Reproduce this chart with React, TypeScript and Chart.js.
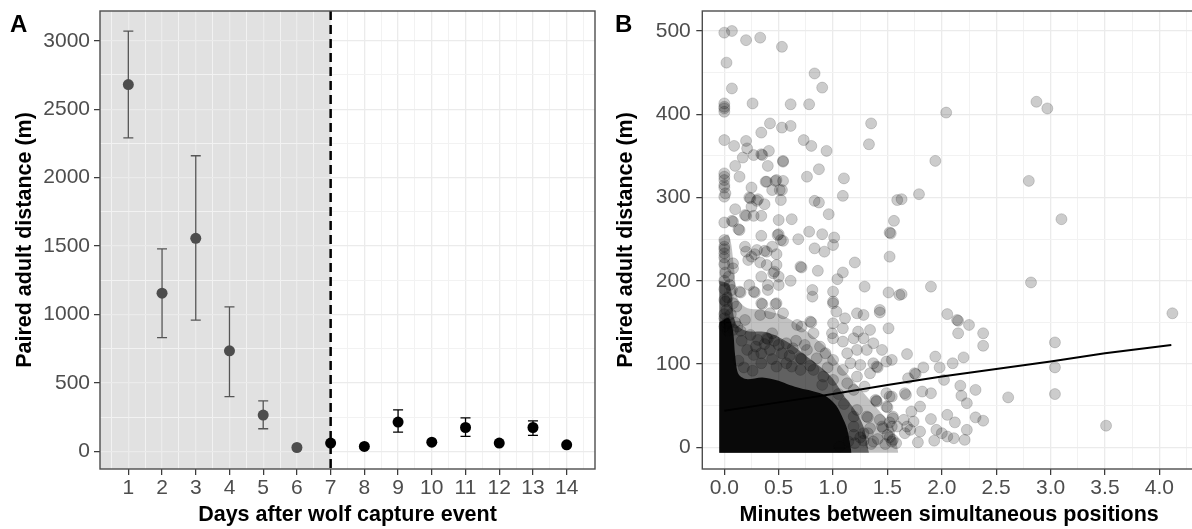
import React, { useEffect, useRef } from 'react';
import { Chart, registerables } from 'chart.js';

Chart.register(...registerables);

const FONT = '"Liberation Sans", Arial, Helvetica, sans-serif';

// ---------- Panel A data ----------
const days = [1, 2, 3, 4, 5, 6, 7, 8, 9, 10, 11, 12, 13, 14];
const meanDistance = [2680, 1156, 1557, 735, 266, 29, 61, 37, 215, 68, 175, 61, 175, 49];
const lowerCI: (number | null)[] = [2290, 832, 959, 401, 166, null, null, null, 141, null, 110, null, 117, null];
const upperCI: (number | null)[] = [3070, 1480, 2160, 1056, 370, null, null, null, 304, null, 246, null, 224, null];
const SHADE_END_DAY = 7;
const xMajorA = [1, 2, 3, 4, 5, 6, 7, 8, 9, 10, 11, 12, 13, 14];
const yMajorA = [0, 500, 1000, 1500, 2000, 2500, 3000];

// ---------- Panel B data ----------
const scatterPoints: [number, number][] = [
  [0.00, 498], [0.07, 500], [0.20, 489], [0.33, 492], [0.53, 481], [0.02, 462], [0.07, 431], [0.83, 449], [0.90, 432],
  [0.00, 413], [0.00, 407], [0.00, 403], [0.00, 409], [0.26, 413], [0.61, 412], [0.78, 412],
  [0.42, 389], [0.34, 378], [0.53, 384], [0.61, 386], [1.35, 389], [1.33, 364],
  [0.00, 369], [0.09, 362], [0.20, 368], [0.21, 359], [0.17, 348], [0.27, 351], [0.34, 352], [0.35, 351], [0.41, 356],
  [0.10, 338], [0.40, 338], [0.54, 343], [0.54, 344], [0.73, 369], [0.80, 362], [0.94, 356], [0.87, 334], [0.76, 325], [1.10, 323], [1.09, 302],
  [0.00, 329], [0.00, 325], [0.00, 321], [0.00, 315], [0.00, 312], [0.01, 305], [0.00, 301],
  [0.14, 325], [0.25, 312], [0.38, 319], [0.48, 321], [0.54, 320], [0.44, 309], [0.53, 309], [0.52, 297], [0.23, 300], [0.31, 298],
  [0.25, 289], [0.37, 292], [0.83, 296], [0.87, 294], [0.96, 280], [0.10, 286],
  [0.00, 270], [0.07, 272], [0.08, 271], [0.14, 261], [0.13, 262], [0.20, 278], [0.27, 278], [0.34, 278], [0.50, 273], [0.62, 274],
  [0.68, 250], [0.78, 259], [0.90, 256], [1.01, 252], [1.00, 243], [0.83, 239], [0.92, 235], [0.34, 254], [0.49, 255], [0.52, 249],
  [0.00, 249], [0.00, 241], [0.00, 238], [0.00, 233], [0.00, 228], [0.19, 241], [0.20, 235], [0.25, 229], [0.28, 232], [0.37, 236],
  [0.44, 241], [0.22, 225], [0.30, 237], [0.39, 235], [0.48, 232],
  [1.20, 222], [1.52, 258], [1.53, 257], [1.56, 272], [1.59, 297], [1.52, 229],
  [2.04, 402], [2.87, 415], [2.97, 407], [1.94, 344], [1.79, 304], [1.63, 298], [2.80, 320], [3.10, 274],
  [2.82, 198], [1.51, 186], [1.63, 184], [1.90, 193], [2.05, 160], [2.14, 153], [1.43, 162],
  [4.12, 161], [2.15, 152], [2.25, 147], [2.15, 137], [2.38, 137], [2.38, 122], [3.04, 126], [1.68, 112], [1.94, 109], [2.20, 108],
  [2.10, 101], [1.98, 96], [1.83, 96], [1.75, 89], [1.76, 88], [1.69, 83], [2.02, 81], [3.04, 96], [2.17, 74], [2.31, 69],
  [1.66, 65], [1.67, 63], [1.82, 67], [1.90, 65], [2.18, 62], [3.04, 64], [2.61, 60], [2.23, 53], [1.54, 61], [1.80, 49],
  [1.72, 43], [2.05, 39], [2.31, 36], [2.38, 32], [1.90, 34], [2.12, 30], [3.51, 26],
  [1.65, 33], [1.68, 25], [1.74, 31], [1.71, 21], [1.80, 19], [1.66, 17], [1.78, 6], [1.55, 9], [1.59, 25], [1.95, 21],
  [2.00, 17], [2.05, 13], [2.11, 11], [2.23, 21], [2.21, 9], [1.93, 8], [1.52, 30], [1.52, 12],
  [0.24, 299], [0.30, 296], [0.39, 319], [0.47, 320], [0.51, 309], [0.19, 279], [0.50, 256], [0.54, 248],
  [1.09, 210], [1.04, 202], [0.86, 212], [0.70, 217], [0.71, 216], [1.29, 193], [1.61, 183], [0.81, 189], [0.81, 181],
  [1.00, 187], [1.00, 175], [0.61, 200], [0.50, 195], [0.40, 195], [0.40, 189], [0.27, 187], [0.28, 186], [0.14, 187], [0.15, 186],
  [0.34, 173], [0.35, 172], [0.48, 173], [0.47, 172], [0.33, 222], [0.39, 219], [0.48, 219], [0.46, 211],
  [0.08, 221], [0.08, 215], [0.04, 205], [0.07, 189], [0.00, 177], [0.08, 173], [0.23, 195], [0.34, 205], [0.45, 209], [0.50, 205],
  [0.01, 175], [0.11, 169], [0.42, 161], [0.54, 161], [0.33, 159], [0.19, 153], [0.02, 149], [0.08, 141], [0.79, 151], [0.80, 150],
  [0.71, 145], [0.82, 137], [0.67, 147], [1.00, 173], [1.03, 163], [1.11, 155], [1.22, 161], [1.28, 159], [1.43, 165], [1.51, 143],
  [1.34, 141], [1.23, 139], [1.09, 143], [1.00, 149], [0.99, 137], [1.00, 131], [1.09, 127], [1.19, 131], [1.28, 131], [1.37, 125],
  [1.45, 117], [1.49, 103], [1.54, 105], [1.31, 117], [1.22, 117], [1.13, 113], [1.16, 101], [1.25, 99], [1.37, 101], [1.40, 97],
  [1.41, 96], [1.34, 89], [1.22, 85], [1.09, 93], [1.00, 105], [0.93, 113], [0.85, 107], [0.76, 117], [0.70, 107], [0.71, 106],
  [0.63, 119], [0.57, 125], [0.50, 123], [0.42, 117], [0.34, 113], [0.27, 111], [0.21, 117], [0.39, 131], [0.40, 130], [0.31, 129],
  [0.44, 137], [0.34, 101], [0.48, 97], [0.57, 101], [0.70, 93], [0.82, 93], [0.91, 85], [1.00, 81], [1.13, 77], [1.19, 69],
  [1.29, 73], [1.39, 57], [1.40, 56], [1.49, 65], [1.49, 49], [1.50, 48], [1.22, 45], [1.31, 37], [1.32, 36], [1.43, 33],
  [1.55, 35], [1.19, 25], [1.34, 23], [1.45, 25], [1.54, 25], [1.19, 15], [1.25, 12], [1.32, 17], [1.41, 10], [1.50, 15],
  [1.58, 5], [1.28, 8], [1.20, 5], [1.35, 4], [1.48, 4], [1.19, 37], [1.28, 17], [1.37, 7], [1.46, 23], [1.54, 7],
  [1.55, 37], [1.40, 55], [1.52, 61], [1.14, 7], [1.06, 1],
  [0.00, 160], [0.00, 155], [0.02, 165], [0.05, 150], [0.00, 190], [0.00, 200], [0.01, 210], [0.00, 220], [0.03, 180],
  [0.06, 160], [0.10, 150], [0.12, 145], [0.15, 140], [0.05, 195], [0.03, 140], [0.00, 145],
  [0.16, 128], [0.24, 135], [0.29, 121], [0.37, 124], [0.46, 128], [0.53, 113], [0.60, 110], [0.66, 128], [0.74, 123], [0.88, 121],
  [0.95, 96], [0.79, 98], [0.62, 97], [0.18, 96], [0.26, 92], [0.13, 104], [0.44, 106], [0.90, 75], [1.05, 64], [1.10, 52],
];
const fitX = [0, 0.5, 1.0, 1.5, 2.0, 2.5, 3.0, 3.5, 4.11];
const fitY = [44, 54, 64, 75, 85, 94, 103, 113, 123];
const DENSE_FLOOR = -6.5;
const denseOuterX = [-0.047, 0.04, 0.09, 0.12, 0.2, 0.35, 0.5, 0.65, 0.8, 0.95, 1.05, 1.15, 1.25, 1.35, 1.45, 1.55, 1.6];
const denseOuterY = [250, 255, 215, 180, 168, 165, 160, 150, 135, 118, 100, 85, 70, 55, 40, 25, -6.5];
const denseMidX = [-0.047, 0.05, 0.1, 0.2, 0.4, 0.6, 0.75, 0.9, 1.0, 1.1, 1.2, 1.28, 1.33];
const denseMidY = [200, 195, 150, 140, 138, 125, 110, 95, 82, 62, 45, 25, -6.5];
const denseCoreX = [-0.047, 0.04, 0.08, 0.1, 0.13, 0.2, 0.35, 0.5, 0.6, 0.7, 0.8, 0.9, 0.97, 1.03, 1.08, 1.13, 1.17];
const denseCoreY = [150, 155, 140, 110, 88, 82, 84, 80, 75, 71, 68, 64, 58, 50, 38, 22, -6.5];
const xMajorB = [0, 0.5, 1.0, 1.5, 2.0, 2.5, 3.0, 3.5, 4.0];
const yMajorB = [0, 100, 200, 300, 400, 500];

const withMinor = (major: number[], lo: number, hi: number) => {
  const step = major[1] - major[0];
  const out: number[] = [];
  for (let v = major[0] - step / 2; v <= major[major.length - 1] + step / 2 + 1e-9; v += step / 2) {
    if (v > lo && v < hi) out.push(Math.round(v * 1000) / 1000);
  }
  return out;
};
const isIn = (arr: number[], v: number) => arr.some((m) => Math.abs(m - v) < 1e-6);

const gridFor = (major: number[]) => ({
  color: (c: any) => (isIn(major, c.tick?.value) ? '#EBEBEB' : '#F2F2F2'),
  lineWidth: (c: any) => (isIn(major, c.tick?.value) ? 1.3 : 1),
  tickColor: (c: any) => (isIn(major, c.tick?.value) ? '#333333' : 'rgba(0,0,0,0)'),
  tickLength: 6,
  tickWidth: 1.2,
});

const fixHeight = (h: number) => (s: any) => {
  s.height = h;
  s.paddingLeft = 0;
  s.paddingRight = 0;
  s.paddingTop = 0;
  s.paddingBottom = 0;
};
const fixWidth = (w: number) => (s: any) => {
  s.width = w;
  s.paddingLeft = 0;
  s.paddingRight = 0;
  s.paddingTop = 0;
  s.paddingBottom = 0;
};

const borderPlugin = {
  id: 'panelBorder',
  afterDraw(chart: any) {
    const { ctx, chartArea: a } = chart;
    ctx.save();
    ctx.strokeStyle = '#4D4D4D';
    ctx.lineWidth = 1.4;
    ctx.strokeRect(a.left, a.top, a.right - a.left, a.bottom - a.top);
    ctx.restore();
  },
};

const panelLabel = (text: string, x: number, y: number) => ({
  id: 'panelLabel' + text,
  afterDraw(chart: any) {
    const ctx = chart.ctx;
    ctx.save();
    ctx.font = `bold 24px ${FONT}`;
    ctx.fillStyle = '#000';
    ctx.textBaseline = 'alphabetic';
    ctx.textAlign = 'left';
    ctx.fillText(text, x, y);
    ctx.restore();
  },
});

const envelope = (xs: number[], ys: number[], color: string, order: number) => ({
  type: 'line',
  data: xs.map((x, i) => ({ x, y: ys[i] })),
  borderColor: 'rgba(0,0,0,0)',
  borderWidth: 0,
  backgroundColor: color,
  pointRadius: 0,
  tension: 0.3,
  fill: { value: DENSE_FLOOR },
  order,
});

export default function App() {
  const refA = useRef<HTMLCanvasElement>(null);
  const refB = useRef<HTMLCanvasElement>(null);

  useEffect(() => {
    const tickFont = { family: FONT, size: 21 };
    const titleFont = { family: FONT, size: 21.5, weight: 'bold' as const };

    // ---------- Panel A ----------
    const xGridA = withMinor(xMajorA, 0.16, 14.84);
    const yGridA = withMinor(yMajorA, -128, 3217);

    const shadePlugin = {
      id: 'shade',
      beforeDraw(chart: any) {
        const { ctx, chartArea: a, scales } = chart;
        const xe = scales.x.getPixelForValue(SHADE_END_DAY);
        ctx.save();
        ctx.fillStyle = '#E1E1E1';
        ctx.fillRect(a.left, a.top, xe - a.left, a.bottom - a.top);
        ctx.restore();
      },
    };
    const errorBarPlugin = {
      id: 'errorBars',
      beforeDatasetsDraw(chart: any) {
        const { ctx, scales } = chart;
        ctx.save();
        ctx.lineWidth = 1.3;
        days.forEach((d, i) => {
          const lo = lowerCI[i];
          const hi = upperCI[i];
          if (lo == null || hi == null) return;
          const x = scales.x.getPixelForValue(d);
          const y1 = scales.y.getPixelForValue(lo);
          const y2 = scales.y.getPixelForValue(hi);
          ctx.strokeStyle = d < SHADE_END_DAY ? '#555555' : '#000000';
          ctx.beginPath();
          ctx.moveTo(x, y1);
          ctx.lineTo(x, y2);
          ctx.moveTo(x - 5, y1);
          ctx.lineTo(x + 5, y1);
          ctx.moveTo(x - 5, y2);
          ctx.lineTo(x + 5, y2);
          ctx.stroke();
        });
        ctx.restore();
      },
    };
    const dashPlugin = {
      id: 'dashLine',
      afterDatasetsDraw(chart: any) {
        const { ctx, chartArea: a, scales } = chart;
        const x = scales.x.getPixelForValue(SHADE_END_DAY);
        ctx.save();
        ctx.strokeStyle = '#000';
        ctx.lineWidth = 2.5;
        ctx.setLineDash([9, 5]);
        ctx.beginPath();
        ctx.moveTo(x, a.top);
        ctx.lineTo(x, a.bottom);
        ctx.stroke();
        ctx.restore();
      },
    };

    const chartA = new Chart(refA.current as HTMLCanvasElement, {
      type: 'scatter',
      data: {
        datasets: [
          {
            data: days.map((d, i) => ({ x: d, y: meanDistance[i] })),
            pointRadius: 5.5,
            pointHoverRadius: 5.5,
            pointBorderWidth: 0,
            pointBackgroundColor: days.map((d) => (d < SHADE_END_DAY ? '#4D4D4D' : '#000000')),
            pointBorderColor: 'rgba(0,0,0,0)',
          },
        ],
      },
      options: {
        responsive: false,
        animation: false,
        devicePixelRatio: 1,
        events: [],
        layout: { padding: { left: 0, right: 5, top: 11, bottom: 0 }, autoPadding: false },
        plugins: { legend: { display: false }, tooltip: { enabled: false } },
        scales: {
          x: {
            type: 'linear',
            min: 0.16,
            max: 14.84,
            afterBuildTicks: (s: any) => {
              s.ticks = xGridA.map((v) => ({ value: v }));
            },
            afterFit: fixHeight(60),
            grid: gridFor(xMajorA),
            border: { display: false },
            ticks: {
              autoSkip: false,
              maxRotation: 0,
              minRotation: 0,
              padding: 1,
              color: '#4D4D4D',
              font: tickFont,
              callback: (v: any) => (isIn(xMajorA, Number(v)) ? String(v) : ''),
            },
            title: {
              display: true,
              text: 'Days after wolf capture event',
              color: '#000',
              font: titleFont,
              padding: { top: 0, bottom: 1 },
            },
          },
          y: {
            type: 'linear',
            min: -128,
            max: 3217,
            afterBuildTicks: (s: any) => {
              s.ticks = yGridA.map((v) => ({ value: v }));
            },
            afterFit: fixWidth(100),
            grid: gridFor(yMajorA),
            border: { display: false },
            ticks: {
              autoSkip: false,
              padding: 4,
              color: '#4D4D4D',
              font: tickFont,
              callback: (v: any) => (isIn(yMajorA, Number(v)) ? String(v) : ''),
            },
            title: {
              display: true,
              text: 'Paired adult distance (m)',
              color: '#000',
              font: titleFont,
              padding: { top: 12.5, bottom: 0 },
            },
          },
        },
      },
      plugins: [shadePlugin, errorBarPlugin, dashPlugin, borderPlugin, panelLabel('A', 10, 32)],
    } as any);

    // ---------- Panel B ----------
    const xGridB = withMinor(xMajorB, -0.2023, 4.337);
    const yGridB = withMinor(yMajorB, -26, 524);

    const chartB = new Chart(refB.current as HTMLCanvasElement, {
      type: 'scatter',
      data: {
        datasets: [
          {
            type: 'line',
            data: fitX.map((x, i) => ({ x, y: fitY[i] })),
            borderColor: '#000',
            borderWidth: 2,
            pointRadius: 0,
            fill: false,
            tension: 0,
            order: 0,
          },
          {
            type: 'scatter',
            data: scatterPoints.map(([x, y]) => ({ x, y })),
            pointRadius: 5.5,
            pointHoverRadius: 5.5,
            backgroundColor: 'rgba(0,0,0,0.2)',
            borderColor: 'rgba(0,0,0,0.16)',
            borderWidth: 1,
            order: 1,
          },
          envelope(denseCoreX, denseCoreY, 'rgba(0,0,0,0.9)', 2),
          envelope(denseMidX, denseMidY, 'rgba(0,0,0,0.5)', 3),
          envelope(denseOuterX, denseOuterY, 'rgba(0,0,0,0.24)', 4),
        ],
      },
      options: {
        responsive: false,
        animation: false,
        devicePixelRatio: 1,
        events: [],
        layout: { padding: { left: 0, right: 4, top: 11, bottom: 0 }, autoPadding: false },
        plugins: { legend: { display: false }, tooltip: { enabled: false } },
        scales: {
          x: {
            type: 'linear',
            min: -0.2023,
            max: 4.337,
            afterBuildTicks: (s: any) => {
              s.ticks = xGridB.map((v) => ({ value: v }));
            },
            afterFit: fixHeight(60),
            grid: gridFor(xMajorB),
            border: { display: false },
            ticks: {
              autoSkip: false,
              maxRotation: 0,
              minRotation: 0,
              padding: 1,
              color: '#4D4D4D',
              font: tickFont,
              callback: (v: any) => (isIn(xMajorB, Number(v)) ? Number(v).toFixed(1) : ''),
            },
            title: {
              display: true,
              text: 'Minutes between simultaneous positions',
              color: '#000',
              font: titleFont,
              padding: { top: 0, bottom: 1 },
            },
          },
          y: {
            type: 'linear',
            min: -26,
            max: 524,
            afterBuildTicks: (s: any) => {
              s.ticks = yGridB.map((v) => ({ value: v }));
            },
            afterFit: fixWidth(102.3),
            grid: gridFor(yMajorB),
            border: { display: false },
            ticks: {
              autoSkip: false,
              padding: 5.5,
              color: '#4D4D4D',
              font: tickFont,
              callback: (v: any) => (isIn(yMajorB, Number(v)) ? String(v) : ''),
            },
            title: {
              display: true,
              text: 'Paired adult distance (m)',
              color: '#000',
              font: titleFont,
              padding: { top: 13, bottom: 0 },
            },
          },
        },
      },
      plugins: [borderPlugin, panelLabel('B', 15, 32)],
    } as any);

    return () => {
      chartA.destroy();
      chartB.destroy();
    };
  }, []);

  return (
    <div
      style={{
        position: 'fixed',
        left: 0,
        top: 0,
        width: 1192,
        height: 529,
        overflow: 'hidden',
        background: '#ffffff',
      }}
    >
      <canvas
        ref={refA}
        width={600}
        height={529}
        style={{ position: 'absolute', left: 0, top: 0, width: 600, height: 529 }}
      />
      <canvas
        ref={refB}
        width={600}
        height={529}
        style={{ position: 'absolute', left: 600, top: 0, width: 600, height: 529 }}
      />
    </div>
  );
}
